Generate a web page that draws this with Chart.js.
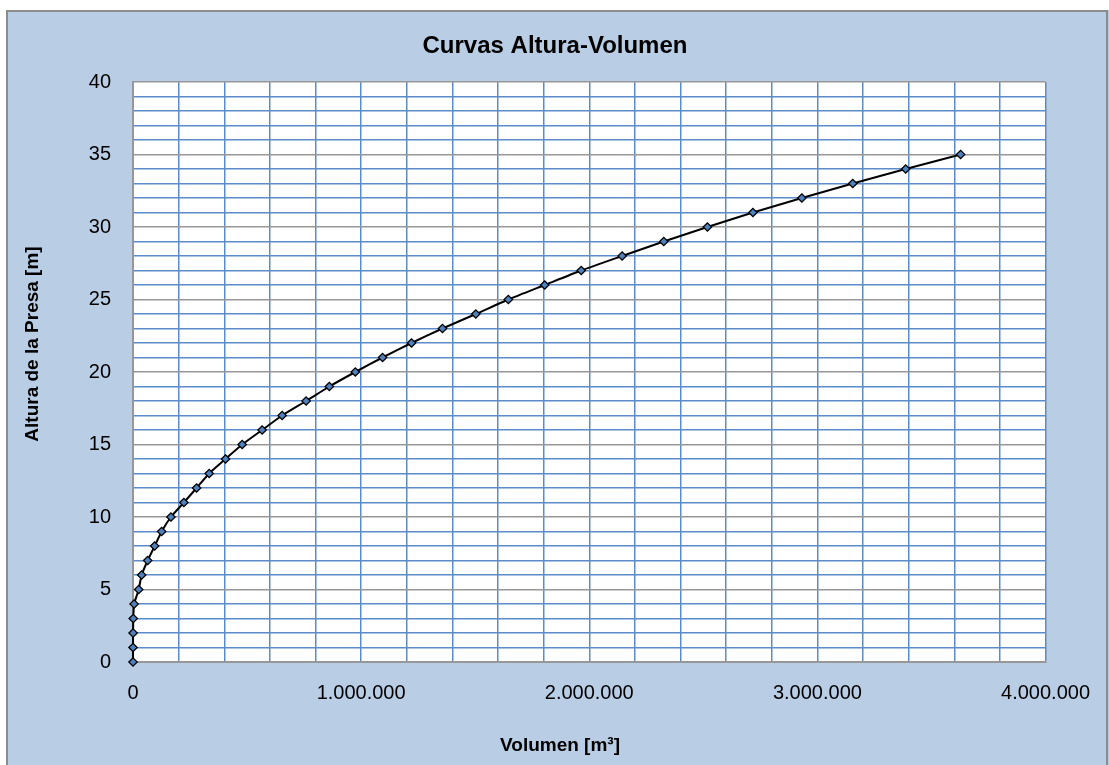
<!DOCTYPE html>
<html>
<head>
<meta charset="utf-8">
<script src="https://cdn.jsdelivr.net/npm/chart.js@4.4.1/dist/chart.umd.min.js"></script>
<style>
  body { margin: 0; background: #fff; }
  #wrap { width: 1109px; height: 765px; }
</style>
</head>
<body>
<div id="wrap"><canvas id="myChart" width="1109" height="765"></canvas></div>
<script>
const alturas = [0, 1, 2, 3, 4, 5, 6, 7, 8, 9, 10, 11, 12, 13, 14, 15, 16, 17, 18, 19, 20,
  21, 22, 23, 24, 25, 26, 27, 28, 29, 30, 31, 32, 33, 34, 35]
const volumenes = [0, 100, 400, 1200, 5000, 25000, 38000, 64300, 95000, 125600, 166300,
  223000, 278700, 334000, 405700, 478700, 566000, 653800, 758800, 860700, 974600,
  1094000, 1220900, 1356600, 1502700, 1645400, 1804700, 1964800, 2144200, 2326700,
  2518000, 2717500, 2932000, 3155100, 3387000, 3627800]
const ticksX = [0, 1000000, 2000000, 3000000, 4000000]
const ticksY = [0, 5, 10, 15, 20, 25, 30, 35, 40]

const titulo = 'Curvas Altura-Volumen'
const tituloX = 'Volumen [m³]'
const tituloY = 'Altura de la Presa [m]'

const azul = '#5B8BC9'
const gris = '#979797'
const fuente = "'Liberation Sans', Arial, sans-serif"

function miles(v) {
  return String(v).replace(/\B(?=(\d{3})+(?!\d))/g, '.')
}

// fondo celeste, marco gris, area blanca y textos
const fondo = {
  id: 'fondo',
  beforeDraw(chart) {
    const c = chart.ctx
    const a = chart.chartArea
    c.save()
    c.fillStyle = '#B9CDE5'
    c.fillRect(0, 0, chart.width, chart.height)
    c.fillStyle = '#fff'
    c.fillRect(0, 0, chart.width, 10)
    c.fillRect(0, 0, 6, chart.height)
    c.strokeStyle = '#8C8C8C'
    c.lineWidth = 2
    c.strokeRect(7, 11, 1100, 800)
    c.fillStyle = '#fff'
    c.fillRect(a.left, a.top, a.right - a.left, a.bottom - a.top)
    c.restore()
  },
  afterDraw(chart) {
    const c = chart.ctx
    c.save()
    c.fillStyle = '#000'
    c.textAlign = 'center'
    c.textBaseline = 'middle'
    c.font = 'bold 24px ' + fuente
    c.fillText(titulo, 555, 46)
    c.font = 'bold 19px ' + fuente
    c.fillText(tituloX, 560, 746)
    c.translate(33, 344)
    c.rotate(-Math.PI / 2)
    c.fillText(tituloY, 0, 0)
    c.restore()
  }
}

const ctx = document.getElementById('myChart')
const myChart = new Chart(ctx, {
  type: 'line',
  data: {
    datasets: [{
      label: 'Altura-Volumen',
      data: volumenes.map((v, i) => ({ x: v, y: alturas[i] })),
      borderColor: '#000',
      borderWidth: 2,
      tension: 0.2,
      clip: false,
      pointStyle: 'rectRot',
      pointRadius: 4.2,
      pointBackgroundColor: '#4F81BD',
      pointBorderColor: '#000',
      pointBorderWidth: 1.3
    }]
  },
  options: {
    responsive: false,
    animation: false,
    layout: { padding: { left: 10, right: 61, top: 82, bottom: 0 } },
    plugins: {
      legend: { display: false },
      tooltip: { enabled: false },
      title: { display: false }
    },
    scales: {
      x: {
        type: 'linear',
        min: ticksX[0],
        max: ticksX[ticksX.length - 1],
        afterFit(s) { s.height = 103 },
        grid: { color: azul, lineWidth: 1.5, drawTicks: false },
        border: { color: gris, width: 2 },
        ticks: {
          stepSize: 200000,
          autoSkip: false,
          maxRotation: 0,
          padding: 19,
          color: '#000',
          font: { family: fuente, size: 20 },
          callback: v => ticksX.includes(v) ? miles(v) : ''
        }
      },
      y: {
        min: ticksY[0],
        max: ticksY[ticksY.length - 1],
        afterFit(s) { s.width = 123 },
        grid: {
          color: c => (c.tick && ticksY.includes(c.tick.value)) ? gris : azul,
          lineWidth: 1.5,
          drawTicks: false
        },
        border: { color: gris, width: 2 },
        ticks: {
          stepSize: 1,
          autoSkip: false,
          padding: 22,
          color: '#000',
          font: { family: fuente, size: 20 },
          callback: v => ticksY.includes(v) ? v : ''
        }
      }
    }
  },
  plugins: [fondo]
})
</script>
</body>
</html>
